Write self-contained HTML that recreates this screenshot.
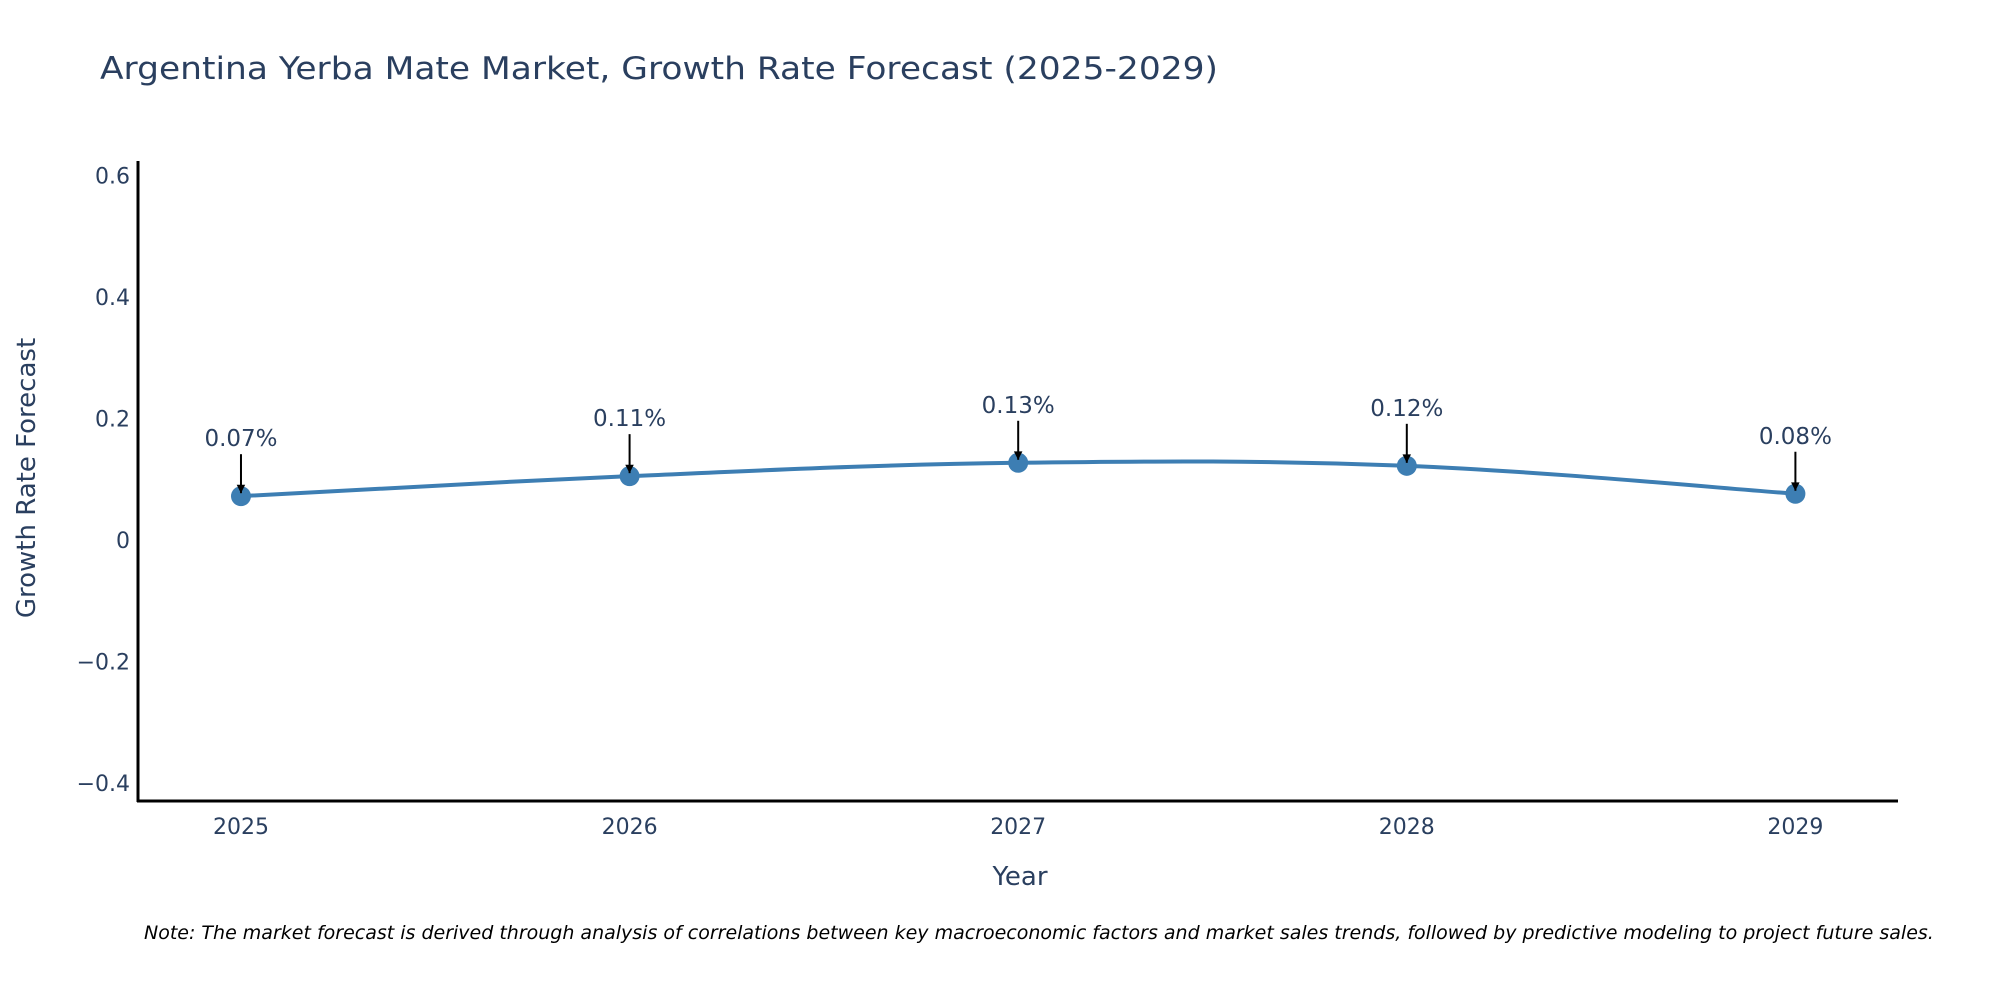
<!DOCTYPE html>
<html><head><meta charset="utf-8"><style>
html,body{margin:0;padding:0;background:#fff;width:2000px;height:1000px;overflow:hidden}
svg text{font-family:"DejaVu Sans","Liberation Sans",sans-serif;fill:#2a3f5f}
</style></head><body>
<svg id="chart" width="2000" height="1000" xmlns="http://www.w3.org/2000/svg">
<text x="100" y="79" font-size="31" textLength="1118" lengthAdjust="spacingAndGlyphs">Argentina Yerba Mate Market, Growth Rate Forecast (2025-2029)</text>
<g id="plot"></g>
<text x="1020" y="885" font-size="26" text-anchor="middle">Year</text>
<text transform="translate(35,478) rotate(-90)" font-size="26" text-anchor="middle">Growth Rate Forecast</text>
<text x="144" y="939" font-size="19" font-style="italic" fill="#000" style="fill:#000">Note: The market forecast is derived through analysis of correlations between key macroeconomic factors and market sales trends, followed by predictive modeling to project future sales.</text>
</svg>
<script>
const years = [2025, 2026, 2027, 2028, 2029];
const growth = [0.072, 0.105, 0.127, 0.122, 0.076];
const labels = ["0.07%", "0.11%", "0.13%", "0.12%", "0.08%"];
const yTicks = [0.6, 0.4, 0.2, 0, -0.2, -0.4];
const yTickLabels = ["0.6", "0.4", "0.2", "0", "\u22120.2", "\u22120.4"];

const NS = "http://www.w3.org/2000/svg";
const g = document.getElementById("plot");
const L = 138, R = 1898, T = 161, B = 801;
const yMin = -0.43, yMax = 0.624;
const xMin = 2024.735, xMax = 2029.264;
const xs = v => L + (v - xMin) / (xMax - xMin) * (R - L);
const ys = v => B - (v - yMin) / (yMax - yMin) * (B - T);
function mk(tag, attrs, text) {
  const e = document.createElementNS(NS, tag);
  for (const k in attrs) e.setAttribute(k, attrs[k]);
  if (text !== undefined) e.textContent = text;
  g.appendChild(e);
  return e;
}
const defs = mk("defs", {});
defs.innerHTML = '<marker id="ah" viewBox="0 0 10 10" refX="10" refY="5" markerWidth="5" markerHeight="5" orient="auto" markerUnits="userSpaceOnUse" style="overflow:visible"><path d="M0,0 L10,5 L0,10 z" fill="#000" transform="scale(1.7) translate(-4,-2)"/></marker>';

const ya = mk("line", {x1: L, y1: T, x2: L, y2: B + 1, stroke: "#000", "stroke-width": 3});


const xa = mk("line", {x1: L - 1, y1: B, x2: R, y2: B, stroke: "#000", "stroke-width": 3});



yTicks.forEach((v, i) => {
  const t = mk("text", {x: L - 8, y: ys(v) + 8, "font-size": 22, "text-anchor": "end"}, yTickLabels[i]);
  
  
});
years.forEach(v => {
  const t = mk("text", {x: xs(v), y: B + 33, "font-size": 22, "text-anchor": "middle"}, String(v));
  
  
});

const P = years.map((v, i) => [xs(v), ys(growth[i])]);
let d = "M" + P[0][0] + "," + P[0][1];
for (let i = 0; i < P.length - 1; i++) {
  const p0 = P[Math.max(0, i - 1)], p1 = P[i], p2 = P[i + 1], p3 = P[Math.min(P.length - 1, i + 2)];
  const k = 0.18;
  const c1 = [p1[0] + (p2[0] - p0[0]) * k, p1[1] + (p2[1] - p0[1]) * k];
  const c2 = [p2[0] - (p3[0] - p1[0]) * k, p2[1] - (p3[1] - p1[1]) * k];
  d += " C" + c1[0] + "," + c1[1] + " " + c2[0] + "," + c2[1] + " " + p2[0] + "," + p2[1];
}
const line = mk("path", {d: d, fill: "none", stroke: "#3d7eb3", "stroke-width": 4});



P.forEach((p, i) => {
  const c = mk("circle", {cx: p[0], cy: p[1], r: 10, fill: "#3d7eb3"});
  
  
  const a = mk("line", {x1: p[0], y1: p[1] - 42, x2: p[0], y2: p[1] - 3, stroke: "#000", "stroke-width": 2, "marker-end": "url(#ah)"});
  
  
  const t = mk("text", {x: p[0], y: p[1] - 50, "font-size": 23, "text-anchor": "middle"}, labels[i]);
  
  
});
</script>
</body></html>
